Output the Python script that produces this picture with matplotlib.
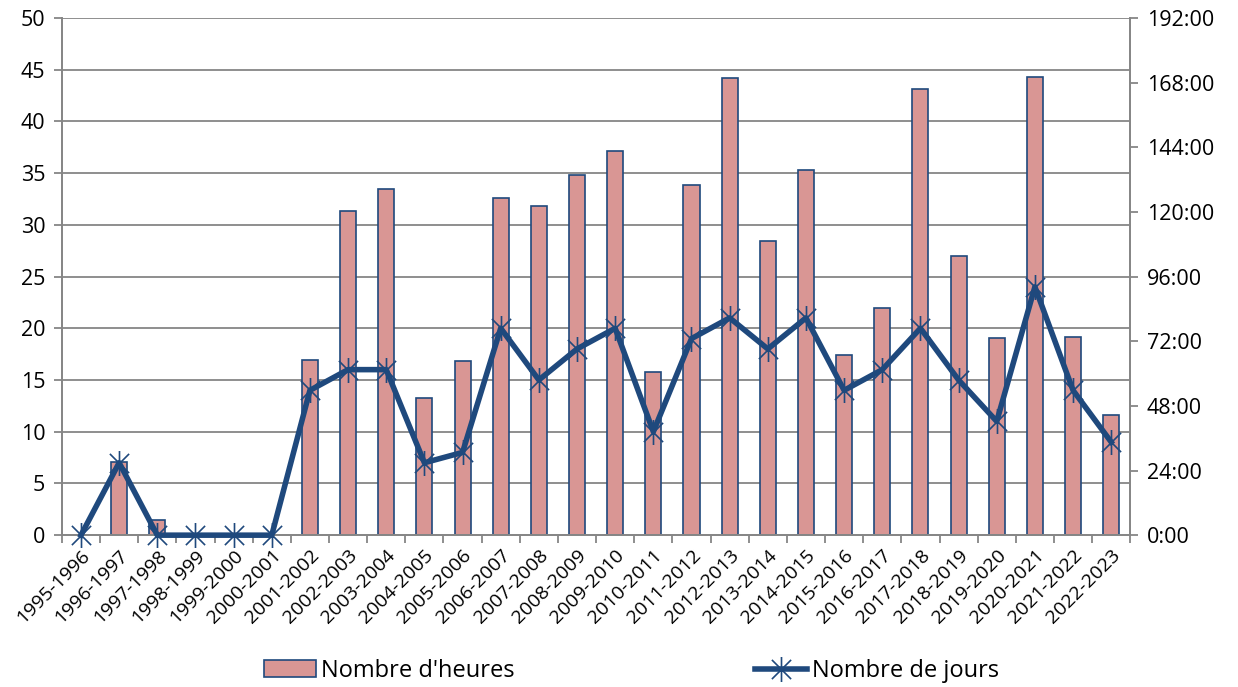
import numpy as np
import matplotlib.pyplot as plt
from matplotlib.path import Path
from matplotlib.ticker import FuncFormatter, MultipleLocator

plt.rcParams['font.family'] = ['Open Sans', 'DejaVu Sans']

# data
seasons = ['1995-1996', '1996-1997', '1997-1998', '1998-1999', '1999-2000',
           '2000-2001', '2001-2002', '2002-2003', '2003-2004', '2004-2005',
           '2005-2006', '2006-2007', '2007-2008', '2008-2009', '2009-2010',
           '2010-2011', '2011-2012', '2012-2013', '2013-2014', '2014-2015',
           '2015-2016', '2016-2017', '2017-2018', '2018-2019', '2019-2020',
           '2020-2021', '2021-2022', '2022-2023']
# hours (right axis)
heures = [0, 27, 5.5, 0, 0, 0, 65, 120.5, 128.5, 51, 64.5, 125, 122, 133.5,
          142.5, 60.5, 130, 169.5, 109, 135.5, 67, 84.5, 165.5, 103.5, 73,
          170, 73.5, 44.5]
# days (left axis)
jours = [0, 7, 0, 0, 0, 0, 14, 16, 16, 7, 8, 20, 15, 18, 20, 10, 19, 21, 18,
         21, 14, 16, 20, 15, 11, 24, 14, 9]

blue = '#1F497D'
pink = '#D99694'
grey = '#868686'

# excel style star marker: an X crossed by a vertical stroke
star = Path([(-1, -1), (1, 1), (-1, 1), (1, -1), (0, -1.3), (0, 1.3)],
            [Path.MOVETO, Path.LINETO] * 3)

fig = plt.figure(figsize=(12.38, 6.87), dpi=100)
ax = fig.add_axes([0.050, 0.221, 0.863, 0.753])
ax2 = ax.twinx()

x = np.arange(len(seasons))

# bars on the hours axis
bars = ax2.bar(x, heures, width=0.42, color=pink, edgecolor=blue, linewidth=1.2,
               label="Nombre d'heures", zorder=2)
ax2.set_ylim(0, 192)
ax2.yaxis.set_major_locator(MultipleLocator(24))
ax2.yaxis.set_major_formatter(FuncFormatter(lambda v, p: '%d:00' % v))

# line on the days axis, drawn above the bars
ax.set_zorder(ax2.get_zorder() + 1)
ax.patch.set_visible(False)
line, = ax.plot(x, jours, color=blue, linewidth=4, marker=star,
                markersize=18, markeredgewidth=1.2, markeredgecolor=blue,
                label='Nombre de jours', zorder=3, clip_on=False)
ax.set_ylim(0, 50)
ax.set_xlim(-0.5, len(seasons) - 0.5)
ax.yaxis.set_major_locator(MultipleLocator(5))

# gridlines belong to the lower axes so they sit under the bars
for v in np.arange(5, 51, 5):
    ax2.axhline(v * 192 / 50, color=grey, linewidth=1.3, zorder=0)

ax.set_xticks(x)
ax.set_xticklabels(seasons, rotation=45, ha='right', rotation_mode='anchor',
                   fontsize=14)
ax.tick_params(axis='x', length=0, pad=8)
ax.set_xticks(np.arange(-0.5, len(seasons)), minor=True)
ax.tick_params(axis='x', which='minor', length=6, color=grey, width=1.3)
ax.tick_params(axis='y', labelsize=15.5, length=6, color=grey, width=1.3, pad=6)
ax2.tick_params(axis='y', labelsize=15.5, length=6, color=grey, width=1.3, pad=6)

for a in (ax, ax2):
    for s in a.spines.values():
        s.set_color(grey)
        s.set_linewidth(1.3)
    a.spines['top'].set_visible(False)

fig.legend(handles=[bars, line], labels=["Nombre d'heures", 'Nombre de jours'],
           loc='lower center', bbox_to_anchor=(0.51, -0.025), ncol=2,
           frameon=False, fontsize=17, columnspacing=10.2, handlelength=2.2,
           handletextpad=0.2)

plt.savefig('out.png', dpi=100)
